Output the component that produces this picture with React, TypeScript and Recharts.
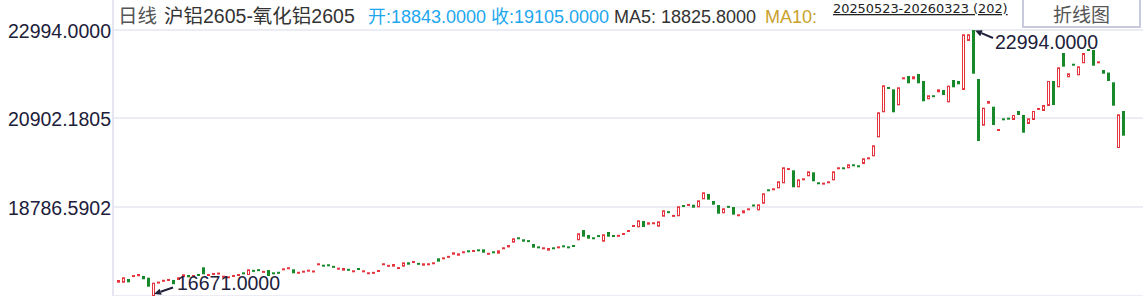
import { Bar, BarChart, CartesianGrid, ReferenceDot, XAxis, YAxis } from "recharts";

const RED = "#e5343d";
const GREEN = "#17892a";
const INK = "#20203a";
const FONT = "'Liberation Sans', Arial, 'Noto Sans CJK SC', sans-serif";

// daily open / close of the spread, 20250523 - 20260323 (202 bars)
const opens = [
  16987, 16987, 17075, 17140, 17140, 17147, 17106, 16671, 16985, 17028,
  17047, 17052, 17052, 17116, 17170, 17142, 17175, 17353, 17165, 17190,
  17200, 17125, 17110, 17142, 17165, 17215, 17170, 17289, 17306, 17240,
  17289, 17215, 17228, 17300, 17325, 17306, 17218, 17244, 17268, 17235,
  17420, 17396, 17406, 17384, 17315, 17273, 17313, 17253, 17318, 17253,
  17206, 17201, 17249, 17420, 17368, 17368, 17330, 17368, 17472, 17463,
  17456, 17391, 17420, 17444, 17567, 17562, 17582, 17653, 17629, 17705,
  17739, 17724, 17762, 17781, 17653, 17715, 17677, 17800, 17826, 17939,
  18048, 18019, 17995, 17907, 17833, 17800, 17748, 17810, 17823, 17857,
  17833, 17883, 17995, 18240, 18121, 18048, 18100, 17962, 18192, 18121,
  18081, 18140, 18192, 18330, 18304, 18454, 18366, 18395, 18318, 18556,
  18684, 18570, 18566, 18815, 18830, 18841, 18779, 18970, 19096, 18929,
  18834, 18637, 18810, 18786, 18585, 18637, 18727, 18827, 18708, 18865,
  19189, 19203, 19231, 19350, 19683, 19659, 19255, 19440, 19516, 19611,
  19374, 19327, 19369, 19421, 19702, 19712, 19707, 19783, 19760, 19809,
  19920, 19992, 20443, 21038, 21632, 21584, 21204, 21822, 21901, 21822,
  21948, 21782, 21347, 21425, 21513, 21568, 21275, 21805, 21782, 21568,
  22733, 22994, 21829, 20719, 21242, 21171, 20612, 20876, 20891, 20855,
  21069, 20974, 20760, 20855, 21112, 21069, 21188, 21782, 21632, 22447,
  21870, 22174, 21917, 22203, 22524, 22519, 22221, 22043, 21983, 21751,
  20189, 21069,
];

const closes = [
  17052, 17116, 16997, 17150, 17194, 17068, 16892, 16987, 16995, 17038,
  17057, 16952, 17116, 17187, 17116, 17152, 17165, 17187, 17175, 17200,
  17210, 17135, 17120, 17152, 17175, 17205, 17306, 17249, 17265, 17250,
  17147, 17205, 17218, 17310, 17335, 17211, 17228, 17254, 17278, 17273,
  17430, 17386, 17396, 17344, 17325, 17337, 17273, 17263, 17308, 17263,
  17216, 17242, 17282, 17430, 17408, 17432, 17340, 17472, 17415, 17496,
  17415, 17449, 17430, 17454, 17487, 17572, 17622, 17710, 17686, 17715,
  17729, 17757, 17752, 17700, 17694, 17705, 17757, 17810, 17883, 18043,
  18038, 17962, 17955, 17819, 17823, 17810, 17812, 17800, 17833, 17847,
  17823, 17836, 18161, 18081, 18033, 18038, 18090, 18138, 18081, 18074,
  18121, 18150, 18240, 18340, 18470, 18311, 18423, 18405, 18447, 18708,
  18644, 18580, 18803, 18805, 18840, 18770, 18946, 19136, 18960, 18841,
  18627, 18756, 18770, 18604, 18595, 18708, 18737, 18817, 18851, 19112,
  19179, 19213, 19398, 19730, 19693, 19255, 19445, 19450, 19635, 19398,
  19327, 19357, 19379, 19635, 19712, 19702, 19802, 19773, 19750, 19944,
  19968, 20253, 21038, 21680, 21599, 21038, 21632, 21870, 21727, 21894,
  21727, 21299, 21442, 21415, 21584, 21449, 21670, 21632, 21703, 22892,
  22892, 21955, 20356, 21147, 21306, 20736, 20622, 20866, 20881, 20974,
  20974, 20553, 20895, 21069, 21122, 21211, 21782, 21211, 22107, 22122,
  21965, 22164, 22131, 22447, 22514, 22145, 22231, 21955, 21782, 21195,
  20990, 20482,
];

const yTicks = [22994, 20902.1805, 18786.5902];
const yMin = 16671;
const yMax = 22994;

const data = opens.map((open, i) => ({
  i,
  open,
  close: closes[i],
  body: [Math.min(open, closes[i]), Math.max(open, closes[i])],
}));

const maxIdx = opens.indexOf(yMax);
const minIdx = opens.indexOf(yMin);

function Candle(props: any) {
  const { x, width, payload } = props;
  let { y, height } = props;
  if (height < 0) {
    y = y + height;
    height = -height;
  }
  const left = Math.round(x + width / 2 - 1.5);
  const up = payload.close >= payload.open;
  const color = up ? RED : GREEN;
  if (height < 2) {
    return <rect x={left} y={y + height / 2 - 1} width={3} height={2} fill={color} />;
  }
  if (!up || height < 3) {
    return <rect x={left} y={y} width={3} height={height} fill={color} />;
  }
  return (
    <rect x={left + 0.5} y={y + 0.5} width={2} height={height - 1} fill="#fff" stroke={color} strokeWidth={1} />
  );
}

function YTick({ y, payload }: any) {
  return (
    <text x={111} y={y} dy={7.5} textAnchor="end" fontSize={19.5} fill={INK} fontFamily={FONT}>
      {Number(payload.value).toFixed(4)}
    </text>
  );
}

function Arrow({ x1, y1, x2, y2 }: { x1: number; y1: number; x2: number; y2: number }) {
  const dx = x2 - x1;
  const dy = y2 - y1;
  const len = Math.sqrt(dx * dx + dy * dy);
  const ux = dx / len;
  const uy = dy / len;
  const bx = x1 + ux * 7;
  const by = y1 + uy * 7;
  const head = `${x1},${y1} ${bx - uy * 3.2},${by + ux * 3.2} ${bx + uy * 3.2},${by - ux * 3.2}`;
  return (
    <g>
      <line x1={bx} y1={by} x2={x2} y2={y2} stroke={INK} strokeWidth={2} />
      <polygon points={head} fill={INK} />
    </g>
  );
}

function MaxMark(props: any) {
  const { cx, cy } = props;
  return (
    <g>
      <Arrow x1={cx + 2} y1={cy + 0.5} x2={cx + 20} y2={cy + 8} />
      <text x={cx + 22} y={cy + 18.5} fontSize={19.5} fill={INK} fontFamily={FONT}>
        {yMax.toFixed(4)}
      </text>
    </g>
  );
}

function MinMark(props: any) {
  const { cx, cy } = props;
  return (
    <g>
      <Arrow x1={cx + 1} y1={cy - 2} x2={cx + 20} y2={cy - 8.5} />
      <text x={cx + 24} y={cy - 6} fontSize={19.5} fill={INK} fontFamily={FONT}>
        {yMin.toFixed(4)}
      </text>
    </g>
  );
}

export default function App() {
  return (
    <div
      style={{
        position: "absolute",
        left: 0,
        top: 0,
        width: 1143,
        height: 296,
        overflow: "hidden",
        background: "#fff",
        fontFamily: FONT,
      }}
    >
      <BarChart width={1143} height={296} data={data} margin={{ top: 30, right: 0, bottom: 0, left: 0 }}>
        <CartesianGrid vertical={false} stroke="#e6e6f2" strokeWidth={1.5} />
        <XAxis dataKey="i" hide padding={{ left: 2.5, right: 17.5 }} />
        <YAxis
          width={113}
          domain={[yMin, yMax]}
          ticks={yTicks}
          interval={0}
          allowDataOverflow
          axisLine={false}
          tickLine={false}
          tick={<YTick />}
        />
        <Bar dataKey="body" barSize={3} shape={Candle} isAnimationActive={false} />
        <ReferenceDot x={maxIdx} y={yMax} r={0} ifOverflow="visible" shape={MaxMark} />
        <ReferenceDot x={minIdx} y={yMin} r={0} ifOverflow="visible" shape={MinMark} />
      </BarChart>
      <svg
        width={1143}
        height={296}
        style={{ position: "absolute", left: 0, top: 0, pointerEvents: "none" }}
        fontFamily={FONT}
      >
        <rect x={112} y={0} width={2} height={296} fill="#e6e6f2" />
        <text y={22.5} fontSize={19.5}>
          <tspan x={118} fill="#555">日线</tspan>
          <tspan x={164} fill="#333">沪铝2605-氧化铝2605</tspan>
        </text>
        <text y={22.5} fontSize={18}>
          <tspan x={368} fill="#1ea7ee">开:18843.0000</tspan>
          <tspan x={491} fill="#1ea7ee">收:19105.0000</tspan>
          <tspan x={614} fill="#333">MA5: 18825.8000</tspan>
          <tspan x={765} fill="#c9a22c">MA10:</tspan>
        </text>
        <text x={833} y={13} fontSize={12.9} fill="#222" textDecoration="underline" fontFamily="'DejaVu Sans', Verdana, sans-serif">
          20250523-20260323 (202)
        </text>
        <rect x={1023} y={-2} width={117} height={29} fill="#fff" stroke="#c9c9dd" strokeWidth={2} />
        <text x={1081.5} y={22} fontSize={19} fill="#555" textAnchor="middle">
          折线图
        </text>
      </svg>
    </div>
  );
}
